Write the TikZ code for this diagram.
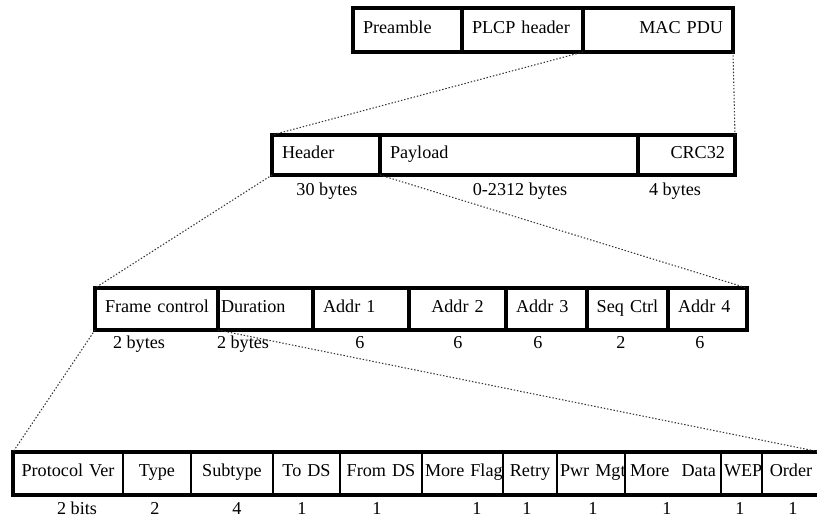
\documentclass[tikz,border=0pt]{standalone}
\usepackage{fontspec}
\setmainfont{Liberation Serif}
\tikzset{
  field/.style={draw, line width=2.6pt, anchor=north west, outer sep=0pt, inner sep=0pt,
    text height=0.62em, text depth=0.1em, font=\fontsize{15.5}{18}\selectfont},
  fw/.style={minimum width={#1*0.03cm}, text width={(#1-20)*0.03cm}},
  fwn/.style={minimum width={#1*0.03cm}, text width={(#1-6)*0.03cm}},
  bit/.style={field, line width=1.3pt, minimum height=1.29cm, align=center},
  size/.style={font=\fontsize{15.5}{18}\selectfont, text height=0.66em, text depth=0.2em},
  zoomline/.style={dash pattern=on 1.2pt off 1.6pt, line width=0.9pt, black!80},
}
\begin{document}
\begin{tikzpicture}[x=0.03cm,y=-0.03cm]
\useasboundingbox (0,0) rectangle (817,522);
% PHY frame
\node[field, fw=109, minimum height=1.32cm, align=left] (pre) at (353,8) {Preamble};
\node[field, fw=121, minimum height=1.32cm, align=left] (plcp) at (462,8) {\mbox{PLCP header}};
\node[field, fw=150, minimum height=1.32cm, align=right] (mac) at (583,8) {MAC PDU};
% MAC frame
\node[field, fw=108, minimum height=1.2cm, align=left] (hdr) at (272,135) {Header};
\node[field, fw=258, minimum height=1.2cm, align=left] (pay) at (380,135) {Payload};
\node[field, fw=97, minimum height=1.2cm, align=right] (crc) at (638,135) {CRC32};
\node[size] (hdrlen) at (327,193) {30 bytes};
\node[size] (paylen) at (520,193) {0-2312 bytes};
\node[size] (crclen) at (675,193) {4 bytes};
% MAC header
\node[field, fw=123, minimum height=1.26cm, align=left] (fc) at (95,288) {\mbox{Frame control}};
\node[field, fwn=95, minimum height=1.26cm, align=left] (dur) at (218,288) {Duration};
\node[field, fw=96, minimum height=1.26cm, align=left] (ad1) at (313,288) {Addr 1};
\node[field, fw=97, minimum height=1.26cm, align=center] (ad2) at (409,288) {Addr 2};
\node[field, fw=81, minimum height=1.26cm, align=left] (ad3) at (506,288) {Addr 3};
\node[field, fwn=81, minimum height=1.26cm, align=center] (seq) at (587,288) {\mbox{Seq Ctrl}};
\node[field, fw=79, minimum height=1.26cm, align=left] (ad4) at (668,288) {Addr 4};
\node[size] (fclen) at (139,346) {2 bytes};
\node[size] (durlen) at (243,346) {2 bytes};
\node[size] (ad1len) at (360,346) {6};
\node[size] (ad2len) at (458,346) {6};
\node[size] (ad3len) at (538,346) {6};
\node[size] (seqlen) at (621,346) {2};
\node[size] (ad4len) at (700,346) {6};
% frame control bits
\node[bit, fwn=110] (pv) at (13,452) {\mbox{Protocol Ver}};
\node[bit, fwn=68] (typ) at (123,452) {Type};
\node[bit, fwn=82] (sub) at (191,452) {Subtype};
\node[bit, fwn=67] (tods) at (273,452) {\mbox{To DS}};
\node[bit, fwn=82] (fromds) at (340,452) {\mbox{From DS}};
\node[bit, fwn=81, align=left] (mfrag) at (422,452) {\mbox{More Flag}};
\node[bit, fwn=54] (retry) at (503,452) {Retry};
\node[bit, fwn=68, align=left] (pwr) at (557,452) {\mbox{Pwr Mgt}};
\node[bit, fwn=96] (mdata) at (625,452) {\mbox{More~ Data}};
\node[bit, fwn=41, align=left] (wep) at (721,452) {\mbox{WEP}};
\node[bit, fwn=58] (ord) at (762,452) {Order};
\draw[line width=2.6pt] (pv.north west) rectangle (ord.south east);
\node[size] (pvlen) at (77,512) {2 bits};
\node[size] (typlen) at (155,512) {2};
\node[size] (sublen) at (237,512) {4};
\node[size] (todslen) at (302,512) {1};
\node[size] (fromdslen) at (377,512) {1};
\node[size] (mfraglen) at (477,512) {1};
\node[size] (retrylen) at (527,512) {1};
\node[size] (pwrlen) at (593,512) {1};
\node[size] (mdatalen) at (667,512) {1};
\node[size] (weplen) at (740,512) {1};
\node[size] (ordlen) at (793,512) {1};
% zoom lines
\draw[zoomline] (plcp.south east) -- (hdr.north west);
\draw[zoomline] (mac.south east) -- (crc.north east);
\draw[zoomline] (hdr.south west) -- (fc.north west);
\draw[zoomline] (hdr.south east) -- (ad4.north east);
\draw[zoomline] (fc.south west) -- (pv.north west);
\draw[zoomline] (fc.south east) -- (ord.north east);
\end{tikzpicture}
\end{document}
